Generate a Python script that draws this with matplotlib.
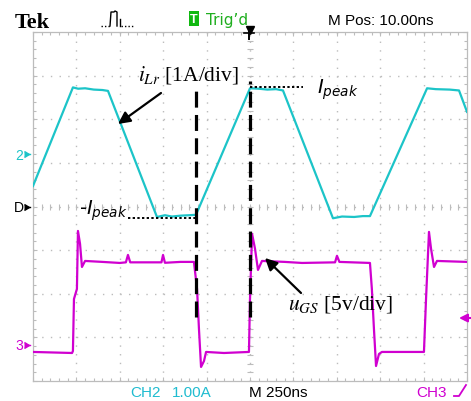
import matplotlib
matplotlib.use("Agg")
import matplotlib.pyplot as plt
from matplotlib.lines import Line2D
from matplotlib.patches import Rectangle
import numpy as np

plt.rcParams['mathtext.fontset'] = 'stix'

# ---------------- data ----------------
# CH2: resonant inductor current i_Lr [A], 1 A/div
t_ilr = [0, 230, 260, 300, 350, 400, 432, 714, 760, 800, 850, 900, 939,
         1250, 1300, 1350, 1400, 1440, 1728, 1780, 1850, 1900, 1941,
         2270, 2320, 2400, 2454, 2500]
i_lr = [-0.73, 1.53, 1.50, 1.51, 1.48, 1.47, 1.45, -1.44, -1.40, -1.43, -1.41, -1.40, -1.39,
        1.51, 1.50, 1.48, 1.49, 1.46, -1.47, -1.43, -1.44, -1.42, -1.42,
        1.51, 1.49, 1.48, 1.46, 0.97]

# CH3: gate-source voltage u_GS [V], 5 V/div
t_ugs = [0, 225, 230, 236, 253, 259, 271, 282, 300, 400, 500, 535, 547, 560, 650, 740, 749, 760, 850,
         927, 945, 956, 968, 985, 997, 1100, 1244,
         1250, 1262, 1279, 1296, 1319, 1450, 1550, 1740, 1751, 1765,
         1941, 1952, 1964, 1976, 1993, 2010, 2252,
         2264, 2281, 2293, 2310, 2327, 2420, 2500]
u_gs = [-0.82, -0.94, -0.71, 5.25, 6.40, 13.05, 11.56, 8.92, 9.61, 9.50, 9.38, 9.45, 10.30, 9.45, 9.45, 9.45, 10.30, 9.40, 9.50,
        9.50, 6.40, 1.81, -2.54, -1.86, -0.82, -0.94, -0.82,
        5.25, 12.71, 10.99, 8.58, 9.61, 9.50, 9.38, 9.45, 10.20, 9.50,
        9.38, 6.40, 1.81, -2.43, -1.05, -0.82, -0.82,
        5.25, 12.94, 10.99, 8.92, 9.61, 9.55, 9.50]

ch2_scale, ch3_scale = 1.0, 5.0      # per division
ch2_off, ch3_off = 5.2, 0.83          # ground level in divisions from bottom
t_div = 250                           # ns/div

t_valley_end = 939
t_peak_start = 1250

CYAN = '#1cc4c8'
MAG = '#d000d0'
GRID = '#bcbcbc'

W, H = 471, 402
fig = plt.figure(figsize=(W / 100, H / 100), dpi=100)
fig.patch.set_facecolor('white')

def P(x, y):
    return (x, H - y)

ax = fig.add_axes([33 / W, (H - 382) / H, 434 / W, 349 / H])
ax.set_xlim(0, 10 * t_div)
ax.set_ylim(0, 8)
ax.set_xticks(np.arange(0, 10 * t_div + 1, t_div))
ax.set_yticks(np.arange(0, 9, 1))
ax.set_xticks(np.arange(0, 10 * t_div + 1, t_div / 5), minor=True)
ax.set_yticks(np.arange(0, 8.01, 0.2), minor=True)
ax.tick_params(which='both', direction='in', top=True, right=True, labelbottom=False,
               labelleft=False, color=GRID, width=0.8)
ax.tick_params(which='major', length=3)
ax.tick_params(which='minor', length=2.2)
for s in ax.spines.values():
    s.set_color(GRID)
    s.set_linewidth(0.9)

# dotted graticule
for k in range(1, 10):
    ax.axvline(k * t_div, color=GRID, lw=1.0, ls=(0, (1, 5.25)), zorder=0)
for k in range(1, 8):
    ax.axhline(k, color=GRID, lw=1.0, ls=(0, (1, 5.25)), zorder=0)
# centre rulers
tx = np.arange(0, 10 * t_div + 1, t_div / 5)
ax.plot(tx, np.full_like(tx, 4.0), ls='none', marker='|', ms=4, mew=0.8, color=GRID, zorder=0)
ty = np.arange(0, 8.01, 0.2)
ax.plot(np.full_like(ty, 5 * t_div), ty, ls='none', marker='_', ms=4, mew=0.8, color=GRID, zorder=0)

# traces
ax.plot(t_ilr, ch2_off + np.array(i_lr) / ch2_scale, color=CYAN, lw=1.6, zorder=3)
ax.plot(t_ugs, ch3_off + np.array(u_gs) / ch3_scale, color=MAG, lw=1.6, zorder=3)

# annotation lines
ipk = max(i_lr)
ivl = min(i_lr)
ax.plot([t_valley_end, t_valley_end], [1.47, 6.74], color='black', lw=2.3,
        ls=(0, (5.0, 2.3)), zorder=4)
ax.plot([t_peak_start, t_peak_start], [1.47, 6.88], color='black', lw=2.3,
        ls=(0, (5.0, 2.3)), zorder=4)
ax.plot([545, t_valley_end], [ch2_off + ivl / ch2_scale] * 2, color='black', lw=1.4,
        ls=(0, (1.2, 1.2)), zorder=4)
ax.plot([t_peak_start, 1555], [ch2_off + ipk / ch2_scale] * 2, color='black', lw=1.4,
        ls=(0, (1.2, 1.2)), zorder=4)

def ftext(x, y, s, **kw):
    fig.text(x / W, (H - y) / H, s, **kw)

# annotation texts and arrows
ftext(138, 75, r'$i_{Lr}$ [1A/div]', family='Liberation Serif', fontsize=15.5,
      ha='left', va='center')
ax.annotate('', xy=P(118, 125), xycoords='figure pixels', xytext=P(161, 94),
            textcoords='figure pixels',
            arrowprops=dict(arrowstyle='-|>', color='black', lw=1.6, mutation_scale=18,
                            shrinkA=0, shrinkB=0))
ftext(288, 305, r'$u_{GS}$ [5v/div]', family='Liberation Serif', fontsize=15.5,
      ha='left', va='center')
ax.annotate('', xy=P(265, 259), xycoords='figure pixels', xytext=P(301, 294),
            textcoords='figure pixels',
            arrowprops=dict(arrowstyle='-|>', color='black', lw=1.6, mutation_scale=18,
                            shrinkA=0, shrinkB=0))
ftext(317, 90, r'$I_{peak}$', math_fontfamily='dejavusans', fontsize=14,
      ha='left', va='center')
ftext(128, 211, r'-$I_{peak}$', math_fontfamily='dejavusans', fontsize=14,
      ha='right', va='center')

# header
ftext(15, 28, 'Tek', family='Liberation Serif', fontweight='bold', fontsize=16,
      va='baseline')
fig.add_artist(Rectangle((189 / W, (H - 27) / H), 10 / W, 15 / H, transform=fig.transFigure,
                         facecolor='#10b810', edgecolor='none'))
ftext(194, 20, 'T', family='Liberation Sans', fontsize=9, color='white',
      ha='center', va='center', fontweight='bold')
ftext(206, 25, "Trig\u2019d", family='DejaVu Sans', fontsize=11, color='#1fae1f',
      va='baseline')
ftext(328, 25, 'M Pos: 10.00ns', family='Liberation Sans', fontsize=11, va='baseline')

# pulse icon
def fline(xs, ys, **kw):
    fig.add_artist(Line2D([x / W for x in xs], [(H - y) / H for y in ys],
                          transform=fig.transFigure, **kw))
fline([101, 110], [27, 27], color='black', lw=1, ls=(0, (1, 1.5)))
fline([110, 111, 114, 115, 117, 117], [27, 13, 13, 12, 13, 27], color='black', lw=1)
fline([120, 120], [20, 27], color='black', lw=1)
fline([121, 133], [27, 27], color='black', lw=1, ls=(0, (1, 1.5)))

# trigger position marker
fline([249, 249], [33, 40], color='black', lw=1.4)
fline([244, 254], [34, 34], color='black', lw=1.2)
ax.plot([5 * t_div], [8.05], marker='v', ms=6, color='black', clip_on=False, zorder=5)

# left channel markers
ftext(19, 156, '2', family='Liberation Sans', fontsize=10, color=CYAN, ha='center', va='center')
ftext(19, 208, 'D', family='Liberation Sans', fontsize=10, color='black', ha='center', va='center')
ftext(19, 346, '3', family='Liberation Sans', fontsize=10, color=MAG, ha='center', va='center')
for yy, cc in [(ch2_off, CYAN), (4.0, 'black'), (ch3_off, MAG)]:
    ax.plot([-22], [yy], marker=5, ms=5, color=cc, clip_on=False)
    ax.plot([-30, -15], [yy, yy], color=cc, lw=1, clip_on=False)

# trigger level marker (right)
ax.annotate('', xy=P(459, 319), xycoords='figure pixels', xytext=P(471, 319),
            textcoords='figure pixels',
            arrowprops=dict(arrowstyle='-|>', color=MAG, lw=1.5, mutation_scale=12,
                            shrinkA=0, shrinkB=0))

# footer
ftext(130, 397, 'CH2', family='Liberation Sans', fontsize=11, color='#20bcd0', va='baseline')
ftext(172, 397, '1.00A', family='Liberation Sans', fontsize=11, color='#20bcd0', va='baseline')
ftext(249, 397, 'M 250ns', family='Liberation Sans', fontsize=11, color='black', va='baseline')
ftext(416, 397, 'CH3', family='Liberation Sans', fontsize=11, color=MAG, va='baseline')
fline([454, 459, 466], [397, 397, 386], color=MAG, lw=1.3)

fig.savefig('out.png', dpi=100, facecolor='white')
